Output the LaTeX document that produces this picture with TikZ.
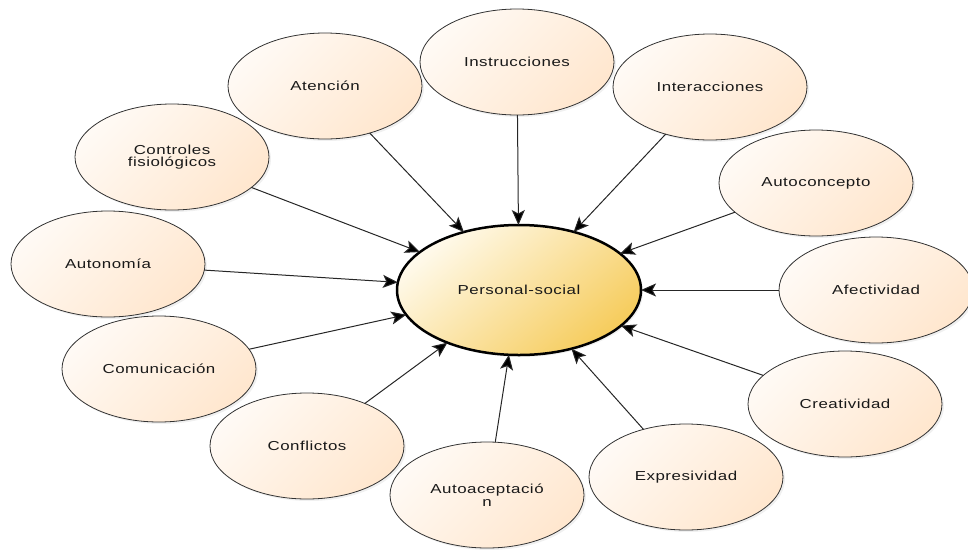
\documentclass[tikz,border=0pt]{standalone}
\usepackage{fontspec}
\setmainfont{Liberation Sans}[FakeStretch=1.3,LetterSpace=4]
\usepackage{tkz-graph}
\usetikzlibrary{shapes.geometric,shadows,arrows.meta}
\colorlet{mypeach}{orange!19!white}
\colorlet{mylight}{orange!4!white}
\definecolor{mygold}{RGB}{246,204,92}
\definecolor{mycream}{RGB}{255,250,236}

\begin{document}
\begin{tikzpicture}[x=1pt,y=-1pt]
\useasboundingbox (0,0) rectangle (968,549);
\GraphInit[vstyle=Normal]
\tikzset{EdgeStyle/.style ={-{Stealth[length=15pt,width=13pt,inset=3.5pt,fill=black]}, draw=black!85, line width=1pt}}
\tikzset{VertexStyle/.style ={shape=ellipse, draw=black!80, line width=0.8pt,
  minimum width=194pt, minimum height=106pt, inner sep=0pt, align=center,
  top color=mylight, bottom color=mypeach, shading angle=45,
  drop shadow={opacity=0.12, shadow xshift=2pt, shadow yshift=-2pt},
  text=black!90, font=\fontsize{13}{12.5}\selectfont}}
\begin{scope}
\tikzset{VertexStyle/.append style ={minimum width=244pt, minimum height=130pt,
  line width=2.5pt, draw=black, top color=mycream, bottom color=mygold, shading angle=40}}
\Vertex[x=519,y=290,L=Personal-social]{PS}
\end{scope}
\Vertex[x=325,y=86,L=Atención]{Aten}
\Vertex[x=517,y=62,L=Instrucciones]{Instr}
\Vertex[x=710,y=87,L=Interacciones]{Inter}
\Vertex[x=816,y=183,L=Autoconcepto]{Auto}
\Vertex[x=876,y=290,L=Afectividad]{Afec}
\Vertex[x=845,y=404,L=Creatividad]{Crea}
\Vertex[x=686,y=477,L=Expresividad]{Expr}
\Vertex[x=487,y=495,L={Autoaceptació\\n}]{Acep}
\Vertex[x=307,y=446,L=Conflictos]{Conf}
\Vertex[x=159,y=369,L=Comunicación]{Comu}
\Vertex[x=108,y=264,L=Autonomía]{Anom}
\Vertex[x=172,y=157,L={Controles\\fisiológicos}]{Ctrl}
\Edge(Aten)(PS)
\Edge(Instr)(PS)
\Edge(Inter)(PS)
\Edge(Auto)(PS)
\Edge(Afec)(PS)
\Edge(Crea)(PS)
\Edge(Expr)(PS)
\Edge(Acep)(PS)
\Edge(Conf)(PS)
\Edge(Comu)(PS)
\Edge(Anom)(PS)
\Edge(Ctrl)(PS)
\end{tikzpicture}
\end{document}
